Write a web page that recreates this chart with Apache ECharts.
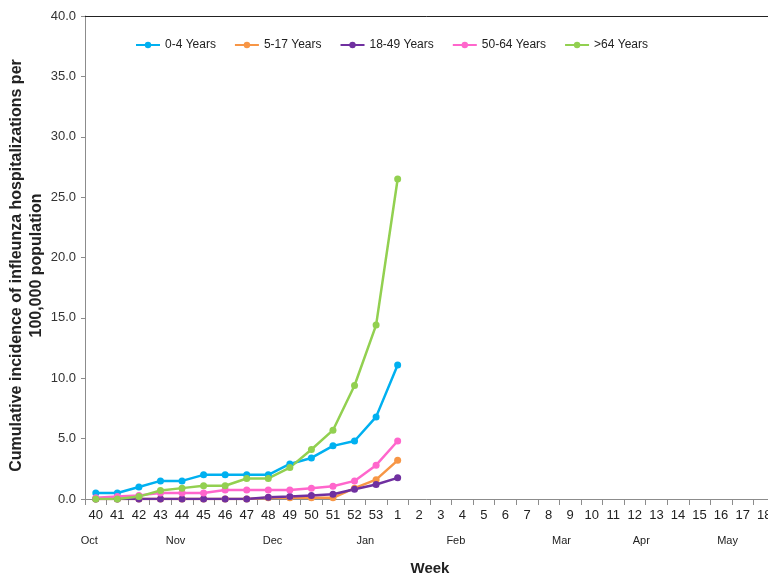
<!DOCTYPE html>
<html><head><meta charset="utf-8">
<script src="https://cdn.jsdelivr.net/npm/echarts@6/dist/echarts.min.js"></script>
<style>html,body{margin:0;padding:0;background:#fff}#c{width:768px;height:575px}</style>
</head><body><div id="c"></div>
<script>
var weeks = ['40','41','42','43','44','45','46','47','48','49','50','51','52','53','1','2','3','4','5','6','7','8','9','10','11','12','13','14','15','16','17','18'];
var age0_4   = [0.5,0.5,1.0,1.5,1.5,2.0,2.0,2.0,2.0,2.9,3.4,4.4,4.8,6.8,11.1];
var age5_17  = [0.0,0.0,0.0,0.0,0.0,0.0,0.0,0.0,0.1,0.1,0.1,0.1,0.9,1.6,3.2];
var age18_49 = [0.0,0.0,0.0,0.0,0.0,0.0,0.0,0.0,0.15,0.2,0.3,0.4,0.8,1.2,1.75];
var age50_64 = [0.1,0.2,0.3,0.5,0.5,0.5,0.75,0.75,0.75,0.75,0.9,1.05,1.5,2.8,4.8];
var age65p   = [0.0,0.0,0.2,0.7,0.9,1.1,1.1,1.7,1.7,2.6,4.1,5.7,9.4,14.4,26.5];
var months = ['Oct','Nov','Dec','Jan','Feb','Mar','Apr','May'];
var monthPos = [-0.3,3.7,8.2,12.5,16.7,21.6,25.3,29.3];

var chart = echarts.init(document.getElementById('c'));
function ser(name, data, color){
  return {name:name,type:'line',data:data,symbol:'circle',symbolSize:7,
    lineStyle:{width:2.5,color:color},itemStyle:{color:color},animation:false};
}
var option = {
  animation:false,
  textStyle:{fontFamily:'Liberation Sans, Arial, sans-serif'},
  legend:{left:130,top:34,itemWidth:24,itemHeight:8,itemGap:18,
    textStyle:{fontSize:12,color:'#222',fontFamily:'Liberation Sans'},
    data:['0-4 Years','5-17 Years','18-49 Years','50-64 Years','>64 Years']},
  grid:{left:85,top:16,width:690,height:483,containLabel:false,outerBoundsMode:'none'},
  xAxis:[{type:'category',data:weeks,boundaryGap:true,
    axisLine:{lineStyle:{color:'#8c8c8c',width:1}},
    axisTick:{show:true,interval:0,length:6,lineStyle:{color:'#8c8c8c'}},
    axisLabel:{interval:0,fontSize:13,color:'#222',margin:10},
    name:'Week',nameLocation:'middle',nameGap:62,nameMoveOverlap:false,
    nameTextStyle:{fontSize:15,fontWeight:'bold',color:'#222'}},
   {type:'category',data:weeks,position:'top',axisLine:{lineStyle:{color:'#222',width:1}},
    axisTick:{show:false},axisLabel:{show:false}}],
  yAxis:{type:'value',min:0,max:40,interval:5,
    axisLine:{show:true,lineStyle:{color:'#8c8c8c'}},
    axisTick:{show:true,length:4,lineStyle:{color:'#8c8c8c'}},
    splitLine:{show:false},
    axisLabel:{fontSize:13,color:'#333',margin:9,formatter:function(v){return v.toFixed(1);}},
    name:'Cumulative incidence of infleunza hospitalizations per\n100,000 population',
    nameLocation:'middle',nameGap:38,nameRotate:90,nameMoveOverlap:false,
    nameTextStyle:{fontSize:16,fontWeight:'bold',color:'#222',lineHeight:20,padding:[0,16,0,0]}},
  series:[ser('0-4 Years',age0_4,'#00B0F0'),ser('5-17 Years',age5_17,'#F79646'),
    ser('18-49 Years',age18_49,'#7030A0'),ser('50-64 Years',age50_64,'#FF66CC'),
    ser('>64 Years',age65p,'#92D050')]
};
chart.setOption(option);
var p0 = chart.convertToPixel({xAxisIndex:0}, 0);
var p1 = chart.convertToPixel({xAxisIndex:0}, 1);
var g = months.map(function(m,i){
  var x = p0 + (p1-p0)*monthPos[i];
  return {type:'text',x:x,y:541,style:{text:m,fontSize:11,fill:'#222',align:'center',verticalAlign:'middle',fontFamily:'Liberation Sans'}};
});
chart.setOption({graphic:g});
</script></body></html>
